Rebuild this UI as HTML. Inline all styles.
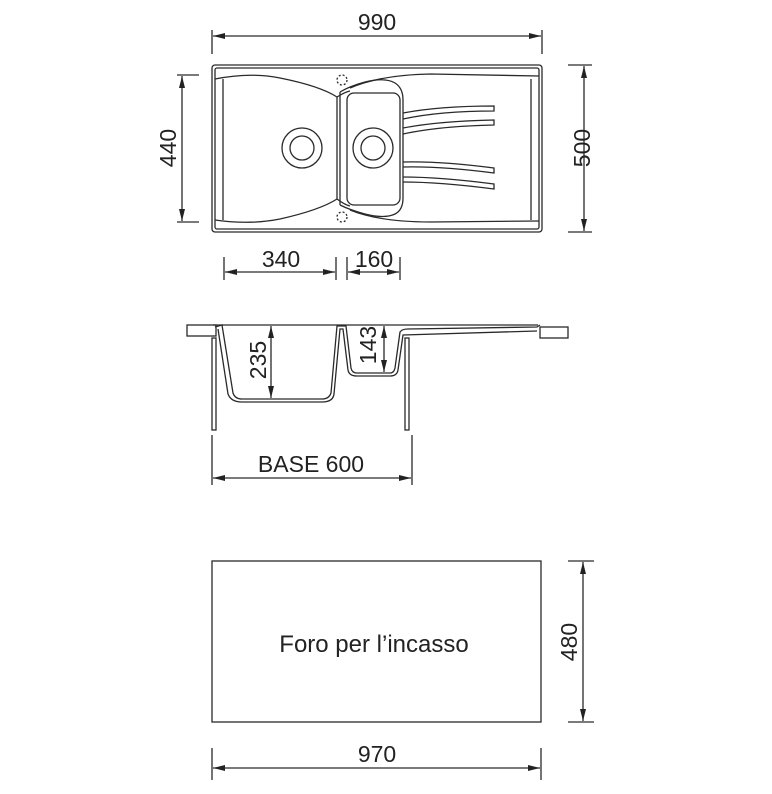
<!DOCTYPE html>
<html><head><meta charset="utf-8"><style>
html,body{margin:0;padding:0;background:#fff;}
svg{display:block;}
text{font-family:"Liberation Sans",sans-serif;fill:#222;}
</style></head><body>
<svg width="772" height="794" viewBox="0 0 772 794" xmlns="http://www.w3.org/2000/svg">
<defs>
<marker id="a" viewBox="0 0 12 6" refX="12" refY="3" markerWidth="12" markerHeight="6" orient="auto-start-reverse" markerUnits="userSpaceOnUse">
<path d="M0,0 L12,3 L0,6 z" fill="#222"/></marker>
</defs>
<g stroke="#2a2a2a" stroke-width="1.3" fill="none">
<line x1="212" y1="30" x2="212" y2="54"/><line x1="542" y1="30" x2="542" y2="54"/>
<line x1="213" y1="36" x2="541" y2="36" marker-start="url(#a)" marker-end="url(#a)"/>
<line x1="177" y1="75" x2="199" y2="75"/><line x1="177" y1="222" x2="199" y2="222"/>
<line x1="182" y1="76" x2="182" y2="221" marker-start="url(#a)" marker-end="url(#a)"/>
<line x1="568" y1="65" x2="592" y2="65"/><line x1="568" y1="232" x2="592" y2="232"/>
<line x1="584" y1="66" x2="584" y2="231" marker-start="url(#a)" marker-end="url(#a)"/>
<rect x="212" y="65" width="330" height="167" rx="3"/>
<rect x="215" y="68" width="324" height="161" rx="2"/>
<line x1="223" y1="79" x2="223" y2="220"/>
<line x1="531" y1="79" x2="531" y2="220"/>
<path d="M215,79 Q250,72 280,78 Q320,86 337,97 L337,199 Q320,210 280,219 Q250,225 215,220"/>
<path d="M337,97 Q345,92 350,91"/>
<path d="M337,199 Q345,205 350,206"/>
<circle cx="302" cy="148" r="20"/><circle cx="302" cy="148" r="12"/>
<path d="M340,92 Q350,86 365,82 Q385,77 395,83 Q403,88 403,100 L403,198 Q403,210 395,214 Q385,219 365,214 Q350,210 340,205"/>
<path d="M340,92 L340,205"/>
<rect x="347" y="93" width="53" height="112" rx="7"/>
<circle cx="373" cy="148" r="20"/><circle cx="373" cy="148" r="12"/>
<path d="M350,88 Q380,75 430,74 L539,76"/>
<path d="M350,210 Q380,222 430,222 L539,221"/>
<circle cx="342" cy="80" r="5" stroke-dasharray="2,2"/>
<circle cx="342" cy="217" r="5" stroke-dasharray="2,2"/>
<path d="M403,113 Q440,106 494,106 L494,111 Q440,111 403,119"/>
<path d="M403,128 Q440,121 494,120 L494,125 Q440,126 403,134"/>
<path d="M403,162 Q440,161 494,168 L494,173 Q440,166 403,167"/>
<path d="M403,177 Q440,177 494,184 L494,189 Q440,182 403,182"/>
<line x1="224" y1="257" x2="224" y2="280"/><line x1="336" y1="257" x2="336" y2="280"/>
<line x1="225" y1="272" x2="335" y2="272" marker-start="url(#a)" marker-end="url(#a)"/>
<line x1="347" y1="257" x2="347" y2="280"/><line x1="400" y1="257" x2="400" y2="280"/>
<line x1="348" y1="272" x2="399" y2="272" marker-start="url(#a)" marker-end="url(#a)"/>
<rect x="187" y="325" width="29" height="11"/>
<rect x="540" y="327" width="28" height="11"/>
<path d="M213,325 L538,325"/>
<path d="M215,327 L222,325 L233,393 Q235,399 242,399 L322,399 Q329,399 331,393 L337,326 L346,326 L351,368 Q352,373 357,373 L390,373 Q394,373 395,368 L400,332 Q402,329 408,329 L537,327 L540,325"/>
<path d="M218,329 L228,394 Q231,402 242,402 L322,402 Q333,402 334,394 L340,329 L343,329 L348,370 Q349,376 357,376 L390,376 Q397,376 398,370 L403,335 L537,331"/>
<rect x="212" y="338" width="4" height="92"/>
<rect x="405" y="338" width="4" height="92"/>
<line x1="271" y1="326" x2="271" y2="398" marker-start="url(#a)" marker-end="url(#a)"/>
<line x1="384" y1="326" x2="384" y2="372" marker-start="url(#a)" marker-end="url(#a)"/>
<line x1="212" y1="435" x2="212" y2="485"/><line x1="412" y1="435" x2="412" y2="485"/>
<line x1="213" y1="478" x2="411" y2="478" marker-start="url(#a)" marker-end="url(#a)"/>
<rect x="212" y="561" width="329" height="161"/>
<line x1="568" y1="561" x2="594" y2="561"/><line x1="568" y1="722" x2="594" y2="722"/>
<line x1="583" y1="562" x2="583" y2="721" marker-start="url(#a)" marker-end="url(#a)"/>
<line x1="212" y1="748" x2="212" y2="780"/><line x1="541" y1="748" x2="541" y2="780"/>
<line x1="213" y1="768" x2="540" y2="768" marker-start="url(#a)" marker-end="url(#a)"/>
</g>
<g font-size="23">
<text x="377" y="30" text-anchor="middle">990</text>
<text transform="translate(176,148) rotate(-90)" text-anchor="middle">440</text>
<text transform="translate(590,148) rotate(-90)" text-anchor="middle">500</text>
<text x="281" y="267" text-anchor="middle">340</text>
<text x="374" y="267" text-anchor="middle">160</text>
<text transform="translate(266,360) rotate(-90)" text-anchor="middle">235</text>
<text transform="translate(376,345) rotate(-90)" text-anchor="middle">143</text>
<text x="311" y="472" text-anchor="middle">BASE 600</text>
<text x="374" y="652" text-anchor="middle" font-size="24">Foro per l’incasso</text>
<text transform="translate(577,642) rotate(-90)" text-anchor="middle">480</text>
<text x="377" y="762" text-anchor="middle">970</text>
</g>
</svg>
</body></html>
